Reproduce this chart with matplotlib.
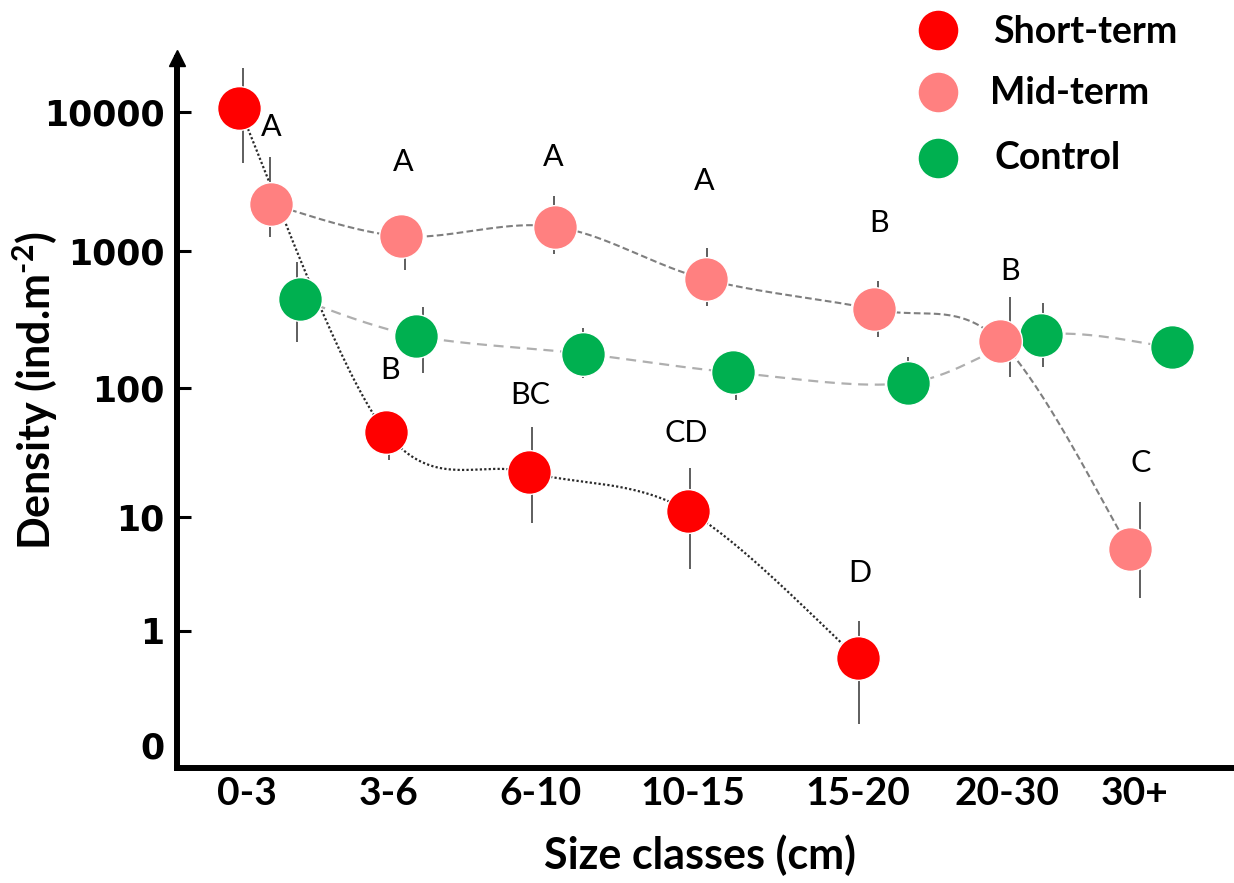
import numpy as np
import matplotlib
matplotlib.use("Agg")
import matplotlib.pyplot as plt
from matplotlib.lines import Line2D

# ---- data -------------------------------------------------------------
categories = ["0-3", "3-6", "6-10", "10-15", "15-20", "20-30", "30+"]

short_term = [10600, 45.8, 22.2, 11.2, 0.76]
short_err_hi = [10100, 18, 27.9, 12.9, 0.47]
short_err_lo = [6330, 18, 13.3, 7.7, 0.58]
short_letters = ["", "B", "BC", "CD", "D"]

mid_term = [2170, 1275, 1496, 621, 375, 220, 5.21]
mid_err_hi = [2600, 500, 994, 425, 232, 239, 7.8]
mid_err_lo = [900, 550, 546, 224, 141, 100, 3.27]
mid_letters = ["A", "A", "A", "A", "B", "B", "C"]

control = [444, 240, 178, 130, 109, 244, 198]
control_err_hi = [392, 152, 96, 40, 58, 171, 0]
control_err_lo = [227, 112, 60, 49, 20, 101, 0]

y_ticks = [0, 1, 10, 100, 1000, 10000]
y_ticklabels = ["0", "1", "10", "100", "1000", "10000"]

# ---- layout -----------------------------------------------------------
W, H = 1234, 883
unit_px = 148.0                      # width of one size class
tick_shift = [0, -0.042, -0.012, 0.012, 0.127, 0.136, 0.0]
short_shift = [-0.050, -0.061, -0.093, -0.020, 0.130]
mid_shift = [0.164, 0.043, 0.083, 0.103, 0.241, 0.090, -0.032]
control_shift = [0.360, 0.144, 0.270, 0.286, 0.468, 0.367, 0.250]
short_bar_px = [3.4, 3.3, 3.3, 2.3, 1.3]
mid_bar_px = [-1, 4.3, -0.7, 0.7, 3.4, 10.3, 10.3]
control_bar_px = [-2.7, 7, 0, 2.7, 0.3, 2.3, 0]
short_letter_px = [(0, 0), (4.3, -61.7), (1, -77.3), (-1, -77.4), (2, -85)]
mid_letter_px = [(0, -77), (1.7, -74.6), (-2, -70), (-1.7, -98.6),
                 (4.7, -86), (10, -70.3), (10.7, -86)]

# spacing between successive y ticks (0,1,10,...,10000)
tick_gaps = np.array([114, 114, 129, 137, 139], float)
knots = np.concatenate([[0.0], np.cumsum(tick_gaps)])
decades = np.arange(len(knots) - 1, dtype=float)


def y_forward(v):
    v = np.asarray(v, float)
    L = np.log10(np.clip(v, 1e-12, None))
    hi = np.interp(L, decades, knots[1:])
    hi = np.where(L > decades[-1], knots[-1] + (L - decades[-1]) * tick_gaps[-1], hi)
    return np.where(v <= 1, v * knots[1], hi)


def y_inverse(t):
    t = np.asarray(t, float)
    L = np.interp(t, knots[1:], decades)
    L = np.where(t > knots[-1], decades[-1] + (t - knots[-1]) / tick_gaps[-1], L)
    L = np.clip(L, -300, 300)
    return np.where(t <= knots[1], t / knots[1], 10 ** L)


RED, SALMON, GREEN = "#FF0000", "#FF8080", "#00B050"
BOLD_FONT = "Lato"

plt.rcParams["mathtext.fontset"] = "custom"
plt.rcParams["mathtext.rm"] = "Lato:bold"
plt.rcParams["mathtext.bf"] = "Lato:bold"

fig = plt.figure(figsize=(W / 100, H / 100), dpi=100)
ax_left, ax_bottom, ax_top = 177, 768, 58
ax = fig.add_axes([ax_left / W, (H - ax_bottom) / H,
                   (W - ax_left) / W, (ax_bottom - ax_top) / H])
ax.set_yscale("function", functions=(y_forward, y_inverse))
ax.set_ylim(float(y_inverse(-(ax_bottom - 745))), float(y_inverse(745 - ax_top)))
ax.set_xlim((ax_left - 246.7) / unit_px, (W - 246.7) / unit_px)

for s in ("top", "right"):
    ax.spines[s].set_visible(False)
for s in ("left", "bottom"):
    ax.spines[s].set_linewidth(4.3)
    ax.spines[s].set_capstyle("projecting")

ax.set_yticks(y_ticks)
ax.set_yticklabels(y_ticklabels)
ax.yaxis.set_minor_locator(matplotlib.ticker.NullLocator())
ax.tick_params(axis="y", direction="in", length=10, width=2.2, pad=9,
               labelsize=25)
for lab in ax.get_yticklabels():
    lab.set_fontfamily("DejaVu Sans")
    lab.set_fontweight("bold")
ax.yaxis.get_major_ticks()[0].tick1line.set_visible(False)

ax.set_xticks(np.arange(len(categories)) + np.array(tick_shift))
ax.set_xticklabels(categories)
ax.tick_params(axis="x", length=0, pad=6, labelsize=28)
for lab in ax.get_xticklabels():
    lab.set_fontfamily(BOLD_FONT)
    lab.set_fontweight("bold")

ax.set_xlabel("Size classes (cm)", fontsize=31, fontweight="bold",
              fontfamily=BOLD_FONT)
ax.xaxis.set_label_coords((700 - ax_left) / (W - ax_left),
                          (ax_bottom - 855) / (ax_bottom - ax_top))
ax.xaxis.label.set_verticalalignment("center")
ax.set_ylabel("Density (ind.m$^{\\text{-2}}$)", fontsize=31, fontweight="bold",
              fontfamily=BOLD_FONT)
ax.yaxis.set_label_coords((35 - ax_left) / (W - ax_left),
                          (ax_bottom - 391) / (ax_bottom - ax_top))
ax.yaxis.label.set_verticalalignment("center")

# arrow head on top of the y axis
ax.plot([0], [1], marker="^", ms=11.5, color="black", transform=ax.transAxes,
        clip_on=False, zorder=10)


def smooth_curve(xs, ys, n=40):
    pts = ax.transData.transform(np.column_stack([xs, ys]))
    p = np.vstack([pts[0], pts, pts[-1]])
    out = []
    s = np.linspace(0, 1, n)[:, None]
    for i in range(1, len(p) - 2):
        p0, p1, p2, p3 = p[i - 1], p[i], p[i + 1], p[i + 2]
        c1 = p1 + (p2 - p0) / 6
        c2 = p2 - (p3 - p1) / 6
        seg = ((1 - s) ** 3) * p1 + 3 * ((1 - s) ** 2) * s * c1 \
            + 3 * (1 - s) * s ** 2 * c2 + s ** 3 * p2
        out.append(seg if i == 1 else seg[1:])
    return ax.transData.inverted().transform(np.vstack(out))


series = [
    (control, control_err_lo, control_err_hi, control_shift, control_bar_px,
     GREEN, dict(color="#AFAFAF", lw=1.6, dashes=(4.5, 3.0)), 3, None, None),
    (mid_term, mid_err_lo, mid_err_hi, mid_shift, mid_bar_px,
     SALMON, dict(color="#7F7F7F", lw=1.5, dashes=(3.2, 1.6)), 4,
     mid_letters, mid_letter_px),
    (short_term, short_err_lo, short_err_hi, short_shift, short_bar_px,
     RED, dict(color="#2A2A2A", lw=1.6, dashes=(1.0, 1.0)), 5,
     short_letters, short_letter_px),
]

for vals, elo, ehi, shift, bar_px, col, lstyle, z, letters, let_px in series:
    vals = np.asarray(vals, float)
    xs = np.arange(len(vals)) + np.asarray(shift)
    curve = smooth_curve(xs, vals)
    ax.plot(curve[:, 0], curve[:, 1], zorder=1.5, solid_capstyle="butt",
            **lstyle)
    bx = xs + np.asarray(bar_px) / unit_px
    ax.vlines(bx, vals - np.asarray(elo), vals + np.asarray(ehi),
              color="#333333", lw=1.1, zorder=2)
    ax.plot(xs, vals, "o", ms=31.5, mfc=col, mec="white", mew=1.0, zorder=z,
            clip_on=False)
    if letters:
        for x, v, t, (dx, dy) in zip(xs, vals, letters, let_px):
            if t:
                ax.annotate(t, (x, v), xytext=(dx * 0.72, -dy * 0.72),
                            textcoords="offset points", ha="center",
                            va="center", fontsize=22, fontfamily="Lato",
                            zorder=6)

# legend
legend_items = [("Short-term", RED, 30, 993, 32),
                ("Mid-term", SALMON, 92, 990, 93),
                ("Control", GREEN, 158, 995, 158)]
for label, col, my, tx, ty in legend_items:
    fig.add_artist(Line2D([938 / W], [1 - my / H], transform=fig.transFigure,
                          marker="o", ms=29.5, mfc=col, mec="white", mew=1.0,
                          ls="none"))
    fig.text(tx / W, 1 - ty / H, label, ha="left", va="center", fontsize=27,
             fontweight="bold", fontfamily=BOLD_FONT)

fig.savefig("out.png", dpi=100, facecolor="white")
